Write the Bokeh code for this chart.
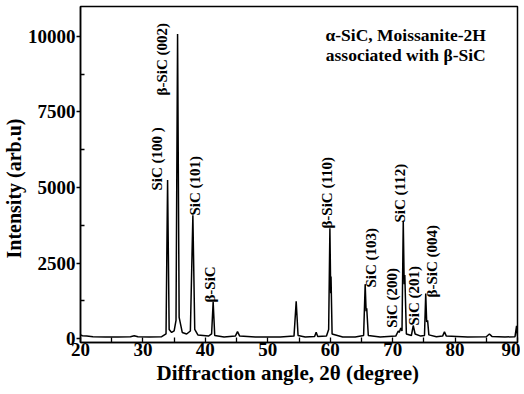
from math import pi
from bokeh.plotting import figure
from bokeh.models import Range1d, FixedTicker, Label, ColumnDataSource, Title
from bokeh.core.properties import value
from bokeh.embed import file_html
from bokeh.resources import INLINE

# ---- data: 2-theta (degree) and intensity (arb.u) ----
two_theta = [20.0, 20.3, 21.0, 22.0, 24.0, 26.0, 28.0, 28.6, 29.2, 31.0, 33.0,
             33.7, 33.95, 34.2, 34.6, 35.0, 35.3, 35.55, 35.8, 36.3, 37.0, 37.6,
             38.0, 38.3, 38.8, 40.5, 41.0, 41.25, 41.5, 43.0, 44.8, 45.15, 45.5,
             48.0, 50.0, 52.0, 54.2, 54.55, 54.85, 56.0, 57.5, 57.75, 58.0, 59.4,
             59.75, 59.95, 60.08, 60.13, 60.3, 62.0, 64.0, 65.35, 65.6, 65.75,
             65.85, 66.1, 68.0, 70.5, 70.9, 71.05, 71.3, 71.5, 71.7, 71.85, 71.95,
             72.2, 73.0, 73.3, 73.6, 74.5, 75.1, 75.3, 75.45, 75.6, 75.8, 77.0,
             78.0, 78.3, 78.6, 82.0, 85.0, 85.5, 85.9, 88.0, 89.6, 89.85, 90.0]
intensity = [120, 90, 80, 60, 50, 50, 60, 90, 60, 50, 60,
             150, 5250, 300, 200, 250, 600, 10080, 700, 200, 150, 250,
             4080, 300, 120, 80, 150, 1220, 100, 50, 80, 230, 80,
             50, 50, 50, 80, 1230, 100, 50, 70, 210, 70, 80,
             300, 3650, 1500, 2050, 150, 50, 50, 100, 1800, 900,
             1000, 100, 50, 80, 250, 200, 350, 250, 3900, 1800, 2100,
             150, 100, 430, 150, 80, 100, 1490, 550, 600, 120, 60,
             80, 220, 80, 50, 60, 150, 70, 50, 60, 420, 80]

peak_labels = ["SiC (100 )", "\u03b2-SiC (002)", "SiC (101)", "\u03b2-SiC",
               "\u03b2-SiC (110)", "SiC (103)", "SiC (200)", "SiC (112)",
               "SiC (201)", "\u03b2-SiC (004)"]
label_x = [32.3, 33.1, 38.4, 40.8, 59.5, 66.5, 69.9, 71.2, 73.5, 76.3]
label_y = [4900, 8050, 4070, 1190, 3640, 1690, 360, 3840, 430, 1360]

x_ticks = [20, 30, 40, 50, 60, 70, 80, 90]
x_minor = [25, 35, 45, 55, 65, 75, 85]
y_ticks = [0, 2500, 5000, 7500, 10000]
y_minor = [1250, 3750, 6250, 8750]

note_lines = ["\u03b1-SiC, Moissanite-2H", "associated with \u03b2-SiC"]

FONT = "Liberation Serif"

p = figure(width=520, height=387, output_backend="svg", toolbar_location=None,
           x_range=Range1d(20, 90), y_range=Range1d(-132, 10993),
           min_border_left=79, min_border_right=3, min_border_top=6,
           min_border_bottom=45)
p.grid.visible = False
p.outline_line_color = "black"
p.outline_line_width = 1.5
p.background_fill_color = "white"
p.border_fill_color = "white"

p.line(two_theta, intensity, line_color="black", line_width=1.5)

src = ColumnDataSource(dict(x=label_x, y=label_y, t=peak_labels))
p.text(x="x", y="y", text="t", source=src, angle=pi / 2,
       text_align="left", text_baseline="middle",
       text_font=value(FONT), text_font_style="bold", text_font_size="15px",
       text_color="black")

# axes
xa = p.xaxis[0]
xa.ticker = FixedTicker(ticks=x_ticks, minor_ticks=x_minor)
ya = p.yaxis[0]
ya.ticker = FixedTicker(ticks=y_ticks, minor_ticks=y_minor)
for ax in (xa, ya):
    ax.axis_line_color = "black"
    ax.axis_line_width = 1.5
    ax.major_tick_line_color = "black"
    ax.minor_tick_line_color = "black"
    ax.major_tick_line_width = 1.3
    ax.minor_tick_line_width = 1.3
    ax.major_label_text_font = FONT
    ax.major_label_text_font_style = "bold"
    ax.major_label_text_font_size = "19px"
    ax.major_label_text_color = "black"
xa.major_tick_in = 5
xa.major_tick_out = 0
xa.minor_tick_in = 5
xa.minor_tick_out = 0
xa.major_label_standoff = 0
ya.major_tick_in = 0
ya.major_tick_out = 4
ya.minor_tick_in = 4
ya.minor_tick_out = 0
ya.major_label_standoff = 1

has_standoff = "standoff" in Title.properties()


def make_title(text, offset, size):
    t = Title(text=text, align="left", offset=offset,
              text_font=FONT, text_font_style="bold",
              text_font_size=size, text_color="black")
    if has_standoff:
        t.standoff = 0
    return t


p.add_layout(make_title("Intensity (arb.u)", 84, "20px"), "left")
p.add_layout(make_title("Diffraction angle, 2\u03b8 (degree)", 76, "21px"), "below")

# top-right note
p.add_layout(Label(x=72.1, y=10033, text=note_lines[0],
                   text_align="center", text_baseline="alphabetic",
                   text_font=FONT, text_font_style="bold",
                   text_font_size="17.5px", text_color="black"))
p.add_layout(Label(x=72.1, y=9371, text=note_lines[1],
                   text_align="center", text_baseline="alphabetic",
                   text_font=FONT, text_font_style="bold",
                   text_font_size="17.5px", text_color="black"))

open("out.html", "w").write(file_html(p, INLINE))
